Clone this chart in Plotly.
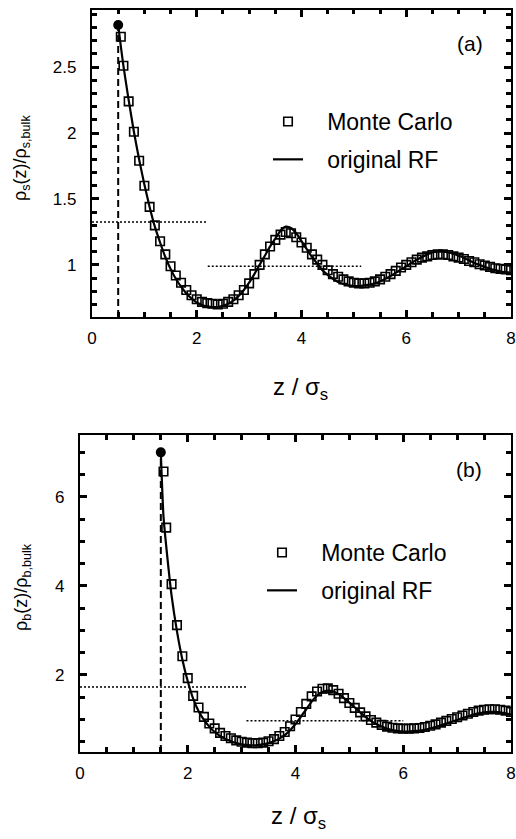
import plotly.graph_objects as go

FONT = "Liberation Sans, Arial, Helvetica, sans-serif"

# ---------------- panel (a) : solvent ----------------
a_mc_x = [0.55, 0.6, 0.7, 0.8, 0.9, 1.0, 1.1, 1.2, 1.3, 1.4, 1.5, 1.6, 1.7, 1.8, 1.9,
          2.0, 2.1, 2.2, 2.3, 2.4, 2.5, 2.6, 2.7, 2.8, 2.9, 3.0, 3.1, 3.2, 3.3, 3.4,
          3.5, 3.6, 3.7, 3.8, 3.9, 4.0, 4.1, 4.2, 4.3, 4.4, 4.5, 4.6, 4.7, 4.8, 4.9,
          5.0, 5.1, 5.2, 5.3, 5.4, 5.5, 5.6, 5.7, 5.8, 5.9, 6.0, 6.1, 6.2, 6.3, 6.4,
          6.5, 6.6, 6.7, 6.8, 6.9, 7.0, 7.1, 7.2, 7.3, 7.4, 7.5, 7.6, 7.7, 7.8, 7.9, 8.0]
a_mc_y = [2.73, 2.51, 2.24, 2.01, 1.79, 1.60, 1.44, 1.30, 1.18, 1.08, 0.99, 0.92, 0.865, 0.81, 0.77,
          0.74, 0.72, 0.71, 0.705, 0.70, 0.705, 0.72, 0.74, 0.77, 0.81, 0.86, 0.93, 1.00, 1.08, 1.14,
          1.19, 1.23, 1.25, 1.24, 1.21, 1.17, 1.13, 1.08, 1.04, 1.00, 0.96, 0.93, 0.91, 0.89, 0.875,
          0.865, 0.86, 0.86, 0.865, 0.875, 0.89, 0.91, 0.93, 0.955, 0.98, 1.00, 1.02, 1.04, 1.055, 1.065,
          1.075, 1.08, 1.08, 1.075, 1.065, 1.055, 1.045, 1.03, 1.02, 1.005, 0.995, 0.985, 0.975, 0.97, 0.965, 0.96]
a_rf_x = [0.5, 0.55, 0.6, 0.7, 0.8, 0.9, 1.0, 1.1, 1.2, 1.3, 1.4, 1.5, 1.6, 1.7, 1.8, 1.9,
          2.0, 2.1, 2.2, 2.3, 2.4, 2.5, 2.6, 2.7, 2.8, 2.9, 3.0, 3.1, 3.2, 3.3, 3.4,
          3.5, 3.6, 3.7, 3.8, 3.9, 4.0, 4.1, 4.2, 4.3, 4.4, 4.5, 4.6, 4.7, 4.8, 4.9,
          5.0, 5.1, 5.2, 5.3, 5.4, 5.5, 5.6, 5.7, 5.8, 5.9, 6.0, 6.1, 6.2, 6.3, 6.4,
          6.5, 6.6, 6.7, 6.8, 6.9, 7.0, 7.1, 7.2, 7.3, 7.4, 7.5, 7.6, 7.7, 7.8, 7.9, 8.0]
a_rf_y = [2.82, 2.66, 2.51, 2.25, 2.01, 1.80, 1.61, 1.44, 1.29, 1.17, 1.06, 0.97, 0.895, 0.835, 0.785, 0.745,
          0.715, 0.695, 0.685, 0.68, 0.68, 0.69, 0.705, 0.73, 0.765, 0.81, 0.865, 0.93, 1.00, 1.07, 1.14,
          1.20, 1.26, 1.29, 1.28, 1.24, 1.18, 1.12, 1.06, 1.01, 0.96, 0.925, 0.895, 0.87, 0.855, 0.845,
          0.84, 0.84, 0.845, 0.85, 0.86, 0.875, 0.895, 0.915, 0.94, 0.965, 0.99, 1.015, 1.04, 1.06, 1.08,
          1.095, 1.10, 1.10, 1.095, 1.085, 1.07, 1.055, 1.035, 1.015, 1.00, 0.985, 0.97, 0.96, 0.95, 0.945, 0.94]
a_wall_x = 0.5
a_contact_y = 2.82
a_dot1_x = [0.0, 2.21]
a_dot1_y = [1.326, 1.326]
a_dot2_x = [2.21, 5.14]
a_dot2_y = [0.99, 0.99]
a_xrange = [0, 8]
a_yrange = [0.605, 2.937]

# ---------------- panel (b) : big particles ----------------
b_mc_x = [1.55, 1.6, 1.7, 1.8, 1.9, 2.0, 2.1, 2.2, 2.3, 2.4, 2.5, 2.6, 2.7, 2.8, 2.9,
          3.0, 3.1, 3.2, 3.3, 3.4, 3.5, 3.6, 3.7, 3.8, 3.9, 4.0, 4.1, 4.2, 4.3, 4.4,
          4.5, 4.6, 4.7, 4.8, 4.9, 5.0, 5.1, 5.2, 5.3, 5.4, 5.5, 5.6, 5.7, 5.8, 5.9,
          6.0, 6.1, 6.2, 6.3, 6.4, 6.5, 6.6, 6.7, 6.8, 6.9, 7.0, 7.1, 7.2, 7.3, 7.4,
          7.5, 7.6, 7.7, 7.8, 7.9, 8.0]
b_mc_y = [6.57, 5.31, 4.04, 3.12, 2.42, 1.93, 1.53, 1.27, 1.06, 0.91, 0.80, 0.70, 0.63, 0.58, 0.53,
          0.50, 0.48, 0.47, 0.47, 0.48, 0.51, 0.56, 0.63, 0.72, 0.85, 1.00, 1.17, 1.35, 1.52, 1.63,
          1.69, 1.70, 1.66, 1.58, 1.48, 1.37, 1.26, 1.16, 1.07, 0.99, 0.93, 0.88, 0.84, 0.815, 0.80,
          0.795, 0.795, 0.80, 0.81, 0.83, 0.86, 0.89, 0.93, 0.97, 1.01, 1.05, 1.09, 1.13, 1.17, 1.20,
          1.22, 1.23, 1.23, 1.22, 1.20, 1.17]
b_rf_x = [1.5, 1.55, 1.6, 1.7, 1.8, 1.9, 2.0, 2.1, 2.2, 2.3, 2.4, 2.5, 2.6, 2.7, 2.8, 2.9,
          3.0, 3.1, 3.2, 3.3, 3.4, 3.5, 3.6, 3.7, 3.8, 3.9, 4.0, 4.1, 4.2, 4.3, 4.4,
          4.5, 4.6, 4.7, 4.8, 4.9, 5.0, 5.1, 5.2, 5.3, 5.4, 5.5, 5.6, 5.7, 5.8, 5.9,
          6.0, 6.1, 6.2, 6.3, 6.4, 6.5, 6.6, 6.7, 6.8, 6.9, 7.0, 7.1, 7.2, 7.3, 7.4,
          7.5, 7.6, 7.7, 7.8, 7.9, 8.0]
b_rf_y = [7.0, 5.55, 4.9, 3.78, 2.98, 2.35, 1.86, 1.47, 1.19, 0.99, 0.84, 0.72, 0.63, 0.56, 0.51, 0.47,
          0.44, 0.43, 0.42, 0.425, 0.44, 0.47, 0.51, 0.57, 0.65, 0.76, 0.90, 1.06, 1.23, 1.40, 1.54,
          1.62, 1.65, 1.63, 1.57, 1.48, 1.38, 1.27, 1.16, 1.06, 0.97, 0.90, 0.84, 0.79, 0.76, 0.74,
          0.73, 0.73, 0.74, 0.75, 0.77, 0.80, 0.83, 0.87, 0.91, 0.95, 0.99, 1.03, 1.07, 1.11, 1.14,
          1.16, 1.17, 1.17, 1.16, 1.14, 1.11]
b_wall_x = 1.5
b_contact_y = 7.0
b_dot1_x = [0.0, 3.09]
b_dot1_y = [1.73, 1.73]
b_dot2_x = [3.09, 6.0]
b_dot2_y = [0.97, 0.97]
b_xrange = [0, 8]
b_yrange = [0.27, 7.39]

legend_names = ["\u00a0\u00a0\u00a0Monte Carlo", "\u00a0\u00a0\u00a0original RF"]

fig = go.Figure()


def add_panel(xa, ya, leg, mc_x, mc_y, rf_x, rf_y, wall, contact, dots, yr):
    for dx, dy in dots:
        fig.add_trace(go.Scatter(x=dx, y=dy, mode="lines", xaxis=xa, yaxis=ya,
                                 line=dict(color="black", width=1.5, dash="2px,2px"),
                                 showlegend=False, hoverinfo="skip"))
    fig.add_trace(go.Scatter(x=[wall, wall], y=[yr[0], contact], mode="lines", xaxis=xa, yaxis=ya,
                             line=dict(color="black", width=2, dash="7px,4px"),
                             showlegend=False, hoverinfo="skip"))
    fig.add_trace(go.Scatter(x=rf_x, y=rf_y, mode="lines", xaxis=xa, yaxis=ya,
                             line=dict(color="black", width=2.2, shape="spline", smoothing=0.6),
                             name=legend_names[1], legend=leg, legendrank=2,
                             legendgroup=leg + "rf"))
    fig.add_trace(go.Scatter(x=mc_x, y=mc_y, mode="markers", xaxis=xa, yaxis=ya,
                             marker=dict(symbol="square-open", size=8.5, color="black",
                                         line=dict(width=1.6, color="black")),
                             name=legend_names[0], legend=leg, legendrank=1,
                             legendgroup=leg + "mc"))
    fig.add_trace(go.Scatter(x=[wall], y=[contact], mode="markers", xaxis=xa, yaxis=ya,
                             marker=dict(symbol="circle", size=10, color="black"),
                             showlegend=False, hoverinfo="skip"))


add_panel("x", "y", "legend", a_mc_x, a_mc_y, a_rf_x, a_rf_y, a_wall_x, a_contact_y,
          [(a_dot1_x, a_dot1_y), (a_dot2_x, a_dot2_y)], a_yrange)
add_panel("x2", "y2", "legend2", b_mc_x, b_mc_y, b_rf_x, b_rf_y, b_wall_x, b_contact_y,
          [(b_dot1_x, b_dot1_y), (b_dot2_x, b_dot2_y)], b_yrange)

W, H = 516, 839
top_x = [92 / W, 511 / W]
top_y = [1 - 317 / H, 1 - 9.5 / H]
bot_x = [80 / W, 511 / W]
bot_y = [1 - 752 / H, 1 - 435 / H]

tickfont = dict(family=FONT, size=17, color="black")


def axis(domain, rng, dtick, mdtick, anchor, standoff):
    return dict(domain=domain, range=rng, anchor=anchor, tickmode="linear", tick0=0,
                dtick=dtick, ticks="inside", ticklen=7, tickwidth=2.5, tickcolor="#000000",
                minor=dict(tickmode="linear", tick0=0, dtick=mdtick, ticks="inside",
                           ticklen=4.5, tickwidth=2.5, tickcolor="#000000", showgrid=False),
                showline=True, linewidth=2.2, linecolor="#000000", mirror="allticks",
                showgrid=False, zeroline=False, tickfont=tickfont,
                ticklabelstandoff=standoff)


legfont = dict(family=FONT, size=23, color="black")
xtfont = dict(family=FONT, size=24, color="black")
ytfont = dict(family=FONT, size=18, color="black")

fig.update_layout(
    template="none",
    width=W, height=H,
    margin=dict(l=0, r=0, t=0, b=0),
    paper_bgcolor="white", plot_bgcolor="white",
    showlegend=True,
    xaxis=axis(top_x, a_xrange, 2, 0.5, "y", 4),
    yaxis=axis(top_y, a_yrange, 0.5, 0.1, "x", 10),
    xaxis2=axis(bot_x, b_xrange, 2, 0.5, "y2", 4),
    yaxis2=axis(bot_y, b_yrange, 2, 0.5, "x2", 10),
    legend=dict(x=268 / W, y=1 - 100 / H, xanchor="left", yanchor="top",
                bgcolor="rgba(0,0,0,0)", font=legfont, itemwidth=30,
                traceorder="grouped", tracegroupgap=5),
    legend2=dict(x=262 / W, y=1 - 531 / H, xanchor="left", yanchor="top",
                 bgcolor="rgba(0,0,0,0)", font=legfont, itemwidth=30,
                 traceorder="grouped", tracegroupgap=5),
    annotations=[
        dict(text="ρ<sub>s</sub>(z)/ρ<sub>s,bulk</sub>", x=22 / W, y=1 - 158 / H,
             xref="paper", yref="paper", showarrow=False, textangle=-90,
             xanchor="center", yanchor="middle", font=ytfont),
        dict(text="z / σ<sub>s</sub>", x=300 / W, y=1 - 388 / H,
             xref="paper", yref="paper", showarrow=False,
             xanchor="center", yanchor="middle", font=xtfont),
        dict(text="ρ<sub>b</sub>(z)/ρ<sub>b,bulk</sub>", x=22 / W, y=1 - 587 / H,
             xref="paper", yref="paper", showarrow=False, textangle=-90,
             xanchor="center", yanchor="middle", font=ytfont),
        dict(text="z / σ<sub>s</sub>", x=298 / W, y=1 - 817 / H,
             xref="paper", yref="paper", showarrow=False,
             xanchor="center", yanchor="middle", font=xtfont),
        dict(text="(a)", x=470 / W, y=1 - 44 / H, xref="paper", yref="paper",
             showarrow=False, xanchor="center", yanchor="middle",
             font=dict(family=FONT, size=21, color="black")),
        dict(text="(b)", x=469 / W, y=1 - 469 / H, xref="paper", yref="paper",
             showarrow=False, xanchor="center", yanchor="middle",
             font=dict(family=FONT, size=21, color="black")),
    ],
)

fig.write_html("out.html")
